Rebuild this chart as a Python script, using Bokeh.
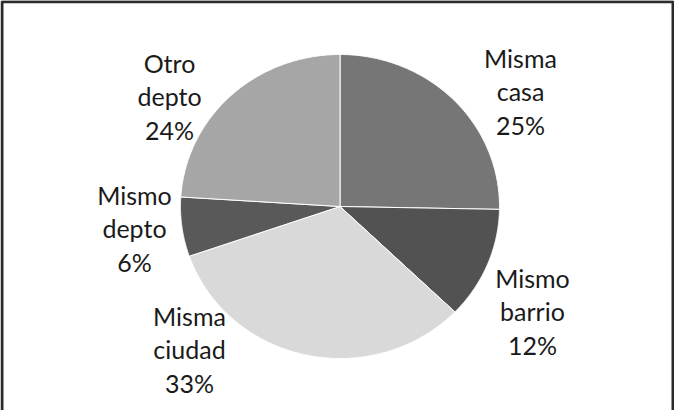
import numpy as np
from bokeh.plotting import figure
from bokeh.models import Range1d, ColumnDataSource, BoxAnnotation
from bokeh.core.properties import value
from bokeh.embed import file_html
from bokeh.resources import INLINE

# ---- data ----
categories = ["Misma casa", "Mismo barrio", "Misma ciudad", "Mismo depto", "Otro depto"]
shares = [25.3, 11.9, 32.5, 6.3, 24.0]
pct_labels = ["25%", "12%", "33%", "6%", "24%"]
colors = ["#767676", "#525252", "#d9d9d9", "#595959", "#a6a6a6"]

# ---- layout (page-pixel like data space) ----
CX, CY, RX, RY = 347.5, 214.0, 159.5, 152.0
label_x = [528, 540, 197, 142, 177]
label_y = [99, 319, 357, 236, 104]

vals = np.array(shares, dtype=float)
frac = vals / vals.sum()
ends = np.cumsum(frac)
starts = ends - frac

xs, ys = [], []
for s, e in zip(starts, ends):
    # clockwise from 12 o'clock
    t = np.pi / 2 - 2 * np.pi * np.linspace(s, e, 200)
    xs.append([CX] + list(CX + RX * np.cos(t)) + [CX])
    ys.append([CY] + list(CY - RY * np.sin(t)) + [CY])

src = ColumnDataSource(dict(xs=xs, ys=ys, color=colors, name=categories))

p = figure(width=674, height=410, x_range=Range1d(8, 682), y_range=Range1d(418, 8),
           output_backend="svg", toolbar_location=None,
           min_border_left=0, min_border_right=0, min_border_top=0, min_border_bottom=0)
p.axis.visible = False
p.grid.visible = False
p.outline_line_color = None
p.background_fill_color = "white"
p.border_fill_color = "white"

p.patches("xs", "ys", source=src, fill_color="color", line_color="white", line_width=1)

texts = ["\n".join(c.split(" ") + [l]) for c, l in zip(categories, pct_labels)]
lsrc = ColumnDataSource(dict(x=label_x, y=label_y, text=texts))
p.text("x", "y", text="text", source=lsrc, text_align="center", text_baseline="middle",
       text_font=value("Lato"), text_font_size="25px", text_line_height=1.12,
       text_color="#1a1a1a")

# chart frame (open at the bottom, as in the cut-off original)
frame = BoxAnnotation(left=9.5, right=680.5, top=9.2, bottom=440,
                      fill_color=None, fill_alpha=0, line_color="#2b2b2b",
                      line_alpha=1.0, line_width=3)
p.add_layout(frame)

open("out.html", "w").write(file_html(p, INLINE))
